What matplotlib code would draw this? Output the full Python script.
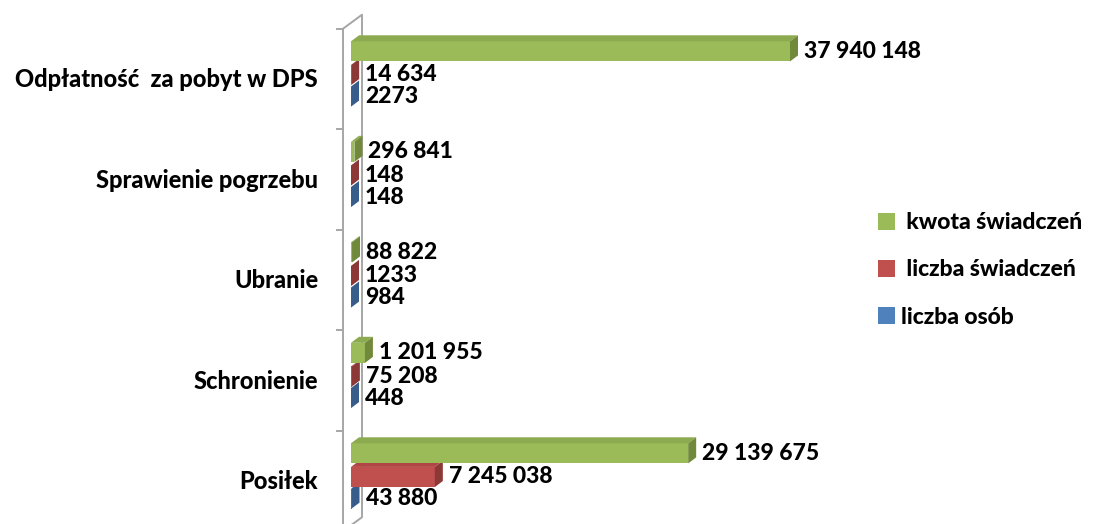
import matplotlib
matplotlib.use('Agg')
import matplotlib.pyplot as plt
from matplotlib.patches import Polygon, Patch
import numpy as np

# dane (od dołu do góry, jak na osi)
categories = ['Posiłek', 'Schronienie', 'Ubranie', 'Sprawienie pogrzebu',
              'Odpłatność  za pobyt w DPS']
kwota_swiadczen = [29139675, 1201955, 88822, 296841, 37940148]
liczba_swiadczen = [7245038, 75208, 1233, 148, 14634]
liczba_osob = [43880, 448, 984, 148, 2273]
series_names = [' kwota świadczeń', ' liczba świadczeń', 'liczba osób']

plt.rcParams['font.family'] = ['Lato', 'DejaVu Sans']
WEIGHT = 'black'

W, H = 1093, 524
fig = plt.figure(figsize=(W / 100, H / 100), dpi=100)
fig.patch.set_facecolor('white')

x0_px = 351           # pozycja zera osi
px_per_unit = 439 / 37940148
xmax = 45e6
ax = fig.add_axes([x0_px / W, 0, xmax * px_per_unit / W, 1])
ax.set_xlim(0, xmax)
ax.set_ylim(-0.468, 4.746)
ax.axis('off')

FS = 16.5
DX, DY = 8, 6          # głębokość słupka (piksele)
bar_h = 0.2
offsets = [0.235, 0.0, -0.215]
colors = [('#9BBB59', '#8CAA4F', '#71893A'),
          ('#C0504D', '#B04744', '#8C3836'),
          ('#4F81BD', '#4674AC', '#385D8A')]
series = [kwota_swiadczen, liczba_swiadczen, liczba_osob]
pos = np.arange(len(categories))


def fmt(v):
    if v < 10000:
        return str(v)
    return f'{v:,}'.replace(',', ' ')


def to_data(pts):
    return ax.transData.inverted().transform(np.array(pts))


d = np.array([DX, DY])
# rysujemy od dolnej serii, żeby górne słupki zasłaniały
for k in [2, 1, 0]:
    vals = series[k]
    front, top, side = colors[k]
    z = 3 + (2 - k)
    ypos = pos + offsets[k]
    ax.barh(ypos, vals, height=bar_h, color=front, edgecolor='none', zorder=z)
    for y, v in zip(ypos, vals):
        tl = ax.transData.transform((0, y + bar_h / 2))
        tr = ax.transData.transform((v, y + bar_h / 2))
        br = ax.transData.transform((v, y - bar_h / 2))
        ax.add_patch(Polygon(to_data([tl, tr, tr + d, tl + d]), closed=True,
                             facecolor=top, edgecolor='none', zorder=z, clip_on=False))
        ax.add_patch(Polygon(to_data([tr, br, br + d, tr + d]), closed=True,
                             facecolor=side, edgecolor='none', zorder=z, clip_on=False))
        ax.annotate(fmt(v), xy=(v, y), xytext=(DX + 6, 0), textcoords='offset pixels',
                    ha='left', va='center', fontsize=FS, fontweight=WEIGHT,
                    color='black', zorder=10, annotation_clip=False)

# etykiety kategorii
for c, name in zip(pos, categories):
    ax.annotate(name, xy=(0, c), xytext=(-33, -5), textcoords='offset pixels',
                ha='right', va='center', fontsize=17, fontweight=WEIGHT,
                color='black', annotation_clip=False)

# ramka ściany bocznej (3D)
ylo, yhi = -0.5, 4.5
fb = ax.transData.transform((0, ylo)) + np.array([-8, -4])
ft = ax.transData.transform((0, yhi)) + np.array([-8, -4])
bt = ft + np.array([19, 14])
bb = fb + np.array([19, 14])
wall = to_data([fb, ft, bt, bb, fb])
ax.plot(wall[:, 0], wall[:, 1], color='#A6A6A6', lw=1.4, clip_on=False, zorder=2)
for yb in np.arange(ylo, yhi + 0.01, 1.0):
    p = ax.transData.transform((0, yb)) + np.array([-8, -4])
    t = to_data([p + np.array([-6, 0]), p])
    ax.plot(t[:, 0], t[:, 1], color='#A6A6A6', lw=1.4, clip_on=False, zorder=2)

# legenda
handles = [Patch(facecolor=c[0], edgecolor='none') for c in colors]
fig.legend(handles, series_names, loc='center left',
           bbox_to_anchor=(857 / W, 1 - 270 / H), frameon=False,
           prop={'size': 16.5, 'weight': WEIGHT},
           handlelength=0.75, handleheight=0.75, handletextpad=0.25,
           labelspacing=1.15)

fig.savefig('out.png', dpi=100, facecolor='white')
plt.close(fig)
